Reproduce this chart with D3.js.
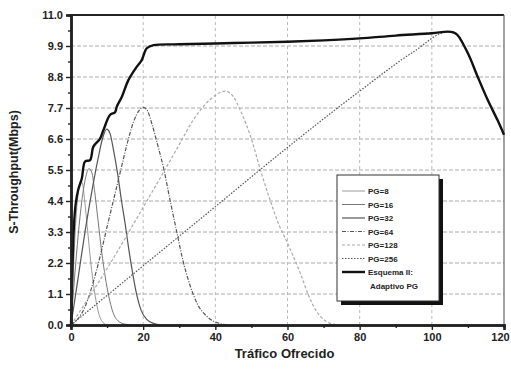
<!DOCTYPE html>
<html>
<head>
<meta charset="utf-8">
<script src="https://cdn.jsdelivr.net/npm/d3@7"></script>
<style>
  body { margin: 0; background: #fff; }
  svg text { font-family: "Liberation Sans", Arial, sans-serif; font-weight: bold; }
</style>
</head>
<body>
<svg id="chart" width="511" height="372"></svg>
<script>
// values
const yTicks = [0.0, 1.1, 2.2, 3.3, 4.4, 5.5, 6.6, 7.7, 8.8, 9.9, 11.0];
const xTicks = [0, 20, 40, 60, 80, 100, 120];

const pg8 = [[0,0],[0.5,1.5],[1,2.9],[1.5,4.0],[2,4.7],[2.6,5.1],[3.2,5.0],[3.8,4.4],[4.5,3.5],[5.5,2.2],[6.5,1.2],[7.5,0.5],[8.5,0.15],[10,0]];
const pg16 = [[0,0],[1,1.7],[2,3.2],[3,4.4],[4,5.2],[5,5.55],[5.8,5.4],[6.5,4.8],[7.5,3.7],[8.5,2.6],[9.5,1.7],[10.5,1.0],[11.5,0.5],[13,0.15],[15,0.03],[17,0]];
const pg32 = [[0,0],[2,1.7],[4,3.4],[6,4.9],[7.5,5.9],[8.7,6.6],[9.9,6.95],[10.8,6.8],[11.8,6.2],[13,5.3],[14,4.4],[15,3.6],[16,2.7],[17,1.9],[18,1.2],[19.5,0.5],[21,0.2],[23,0.05],[25,0]];
const pg64 = [[0,0],[3.9,0.65],[7.1,1.95],[10.4,3.7],[13.6,5.4],[15.5,6.4],[17.3,7.2],[18.8,7.6],[20,7.72],[21.2,7.6],[22.5,7.1],[24,6.4],[25.6,5.6],[27.5,4.4],[29.4,3.25],[31,2.3],[33,1.4],[35,0.75],[37.7,0.3],[40.5,0.08],[44,0]];
const pg128 = [[0,0],[10,2.0],[19.2,4.0],[26,5.5],[30,6.4],[34,7.3],[37,7.8],[40,8.15],[42.8,8.3],[45,8.1],[47,7.6],[50,6.6],[52.5,5.5],[55,4.5],[57.5,3.6],[60,2.9],[63.5,1.85],[66,1.0],[68.2,0.45],[70,0.2],[72,0.05],[75,0]];
const pg256 = [[0,0],[20,2.1],[40,4.2],[60,6.3],[80,8.3],[95,9.7],[104.4,10.4],[107.1,10.29],[110,9.64],[112.7,8.81],[115.5,7.98],[118.2,7.27],[120,6.75]];
const adaptivo = [[0,0],[0.4,2.0],[0.8,3.5],[1.3,4.3],[2,4.8],[3,5.2],[3.9,5.8],[5.3,5.85],[6.2,6.33],[8,6.6],[9,6.92],[10.8,7.45],[12.2,7.55],[12.7,7.75],[14.1,8.1],[15.9,8.69],[18.2,9.16],[19.6,9.4],[21,9.82],[22.9,9.93],[30,9.96],[40,9.99],[50,10.02],[60,10.05],[70,10.1],[80,10.17],[90,10.27],[100,10.35],[104.4,10.41],[106,10.38],[107.1,10.29],[110,9.64],[112.7,8.81],[115.5,7.98],[118.2,7.27],[120,6.75]];

const series = [
  { name: "PG=8",   data: pg8,   color: "#9a9a9a", width: 1,   dash: null },
  { name: "PG=16",  data: pg16,  color: "#777",    width: 1,   dash: null },
  { name: "PG=32",  data: pg32,  color: "#555",    width: 1.2, dash: null },
  { name: "PG=64",  data: pg64,  color: "#555",    width: 1.2, dash: "4,1.5,1,1.5" },
  { name: "PG=128", data: pg128, color: "#aaa",    width: 1.2, dash: "3,2" },
  { name: "PG=256", data: pg256, color: "#555",    width: 1.2, dash: "1.5,1.5" }
];

const svg = d3.select("#chart");
const margin = { left: 71, right: 7, top: 15, bottom: 47 };
const W = 511, H = 372;

const x = d3.scaleLinear().domain([0, 120]).range([margin.left, W - margin.right]);
const y = d3.scaleLinear().domain([0, 11]).range([H - margin.bottom, margin.top]);

svg.append("rect").attr("width", W).attr("height", H).attr("fill", "#fff");

// grid
const grid = svg.append("g");
grid.selectAll(".hg").data(yTicks.slice(1, -1)).enter().append("line")
  .attr("x1", x(0)).attr("x2", x(120))
  .attr("y1", d => y(d)).attr("y2", d => y(d))
  .attr("stroke", "#aaa").attr("stroke-width", 1).attr("stroke-dasharray", "4,2");
grid.selectAll(".vg").data(xTicks.slice(1, -1)).enter().append("line")
  .attr("x1", d => x(d)).attr("x2", d => x(d))
  .attr("y1", y(0)).attr("y2", y(11))
  .attr("stroke", "#bbb").attr("stroke-width", 1).attr("stroke-dasharray", "3,3");

// frame: thick top, thin right
svg.append("line").attr("x1", x(0)).attr("x2", x(120)).attr("y1", y(11)).attr("y2", y(11))
  .attr("stroke", "#222").attr("stroke-width", 2);
svg.append("line").attr("x1", x(120)).attr("x2", x(120)).attr("y1", y(11)).attr("y2", y(0))
  .attr("stroke", "#666").attr("stroke-width", 1.2);

// curves
const line = d3.line().x(d => x(d[0])).y(d => y(d[1])).curve(d3.curveMonotoneX);
series.forEach(s => {
  svg.append("path").datum(s.data).attr("d", line)
    .attr("fill", "none").attr("stroke", s.color).attr("stroke-width", s.width)
    .attr("stroke-dasharray", s.dash);
});
svg.append("path").datum(adaptivo).attr("d", d3.line().x(d => x(d[0])).y(d => y(d[1])).curve(d3.curveCatmullRom))
  .attr("fill", "none").attr("stroke", "#111").attr("stroke-width", 2.4);

// axes
const yAxis = svg.append("g").attr("transform", `translate(${x(0)},0)`)
  .call(d3.axisLeft(y).tickValues(yTicks).tickFormat(d3.format(".1f")).tickSize(5).tickPadding(3));
const yMinor = svg.append("g").attr("transform", `translate(${x(0)},0)`)
  .call(d3.axisLeft(y).tickValues(yTicks.slice(0, -1).map(d => d + 0.55)).tickFormat("").tickSize(3));
const xAxis = svg.append("g").attr("transform", `translate(0,${y(0)})`)
  .call(d3.axisBottom(x).tickValues(xTicks).tickSize(5).tickPadding(3));
const xMinor = svg.append("g").attr("transform", `translate(0,${y(0)})`)
  .call(d3.axisBottom(x).tickValues([10, 30, 50, 70, 90, 110]).tickFormat("").tickSize(3));

[yAxis, yMinor, xAxis, xMinor].forEach(g => {
  g.select(".domain").attr("stroke", "#222").attr("stroke-width", 2.5);
  g.selectAll(".tick line").attr("stroke", "#222").attr("stroke-width", 1.4);
  g.selectAll("text").attr("fill", "#222").attr("font-size", 11)
    .attr("font-family", "'Liberation Sans', Arial, sans-serif").attr("font-weight", "bold");
});
// last x label sits at the page edge; nudge it in so it stays whole
xAxis.selectAll(".tick text").filter(d => d === 120).attr("dx", -4);

// axis titles
svg.append("text").attr("transform", `translate(18,${(y(0) + y(11)) / 2 + 2}) rotate(-90)`)
  .attr("text-anchor", "middle").attr("font-size", 12.5).attr("fill", "#222")
  .text("S-Throughput(Mbps)");
svg.append("text").attr("x", (x(0) + x(120)) / 2 - 3).attr("y", 358)
  .attr("text-anchor", "middle").attr("font-size", 13).attr("fill", "#222")
  .text("Tráfico Ofrecido");

// legend
const lg = svg.append("g");
const lx = 337, ly = 175, lw = 102, lh = 126;
lg.append("rect").attr("x", lx + 4).attr("y", ly + 4).attr("width", lw).attr("height", lh).attr("fill", "#111");
lg.append("rect").attr("x", lx).attr("y", ly).attr("width", lw).attr("height", lh)
  .attr("fill", "#fff").attr("stroke", "#333").attr("stroke-width", 1);
const rowY = d3.scaleLinear().domain([0, 1]).range([ly + 16, ly + 29.5]);
series.forEach((s, i) => {
  const yy = rowY(i);
  lg.append("line").attr("x1", lx + 5).attr("x2", lx + 28).attr("y1", yy).attr("y2", yy)
    .attr("stroke", s.color).attr("stroke-width", s.width).attr("stroke-dasharray", s.dash);
  lg.append("text").attr("x", lx + 31).attr("y", yy + 3).attr("font-size", 8).attr("fill", "#222").text(s.name);
});
const ay = rowY(6);
lg.append("line").attr("x1", lx + 5).attr("x2", lx + 28).attr("y1", ay).attr("y2", ay)
  .attr("stroke", "#111").attr("stroke-width", 2.4);
lg.append("text").attr("x", lx + 31).attr("y", ay + 3).attr("font-size", 8).attr("fill", "#222").text("Esquema II:");
lg.append("text").attr("x", lx + 33).attr("y", ay + 17).attr("font-size", 8).attr("fill", "#222").text("Adaptivo PG");
</script>
</body>
</html>
